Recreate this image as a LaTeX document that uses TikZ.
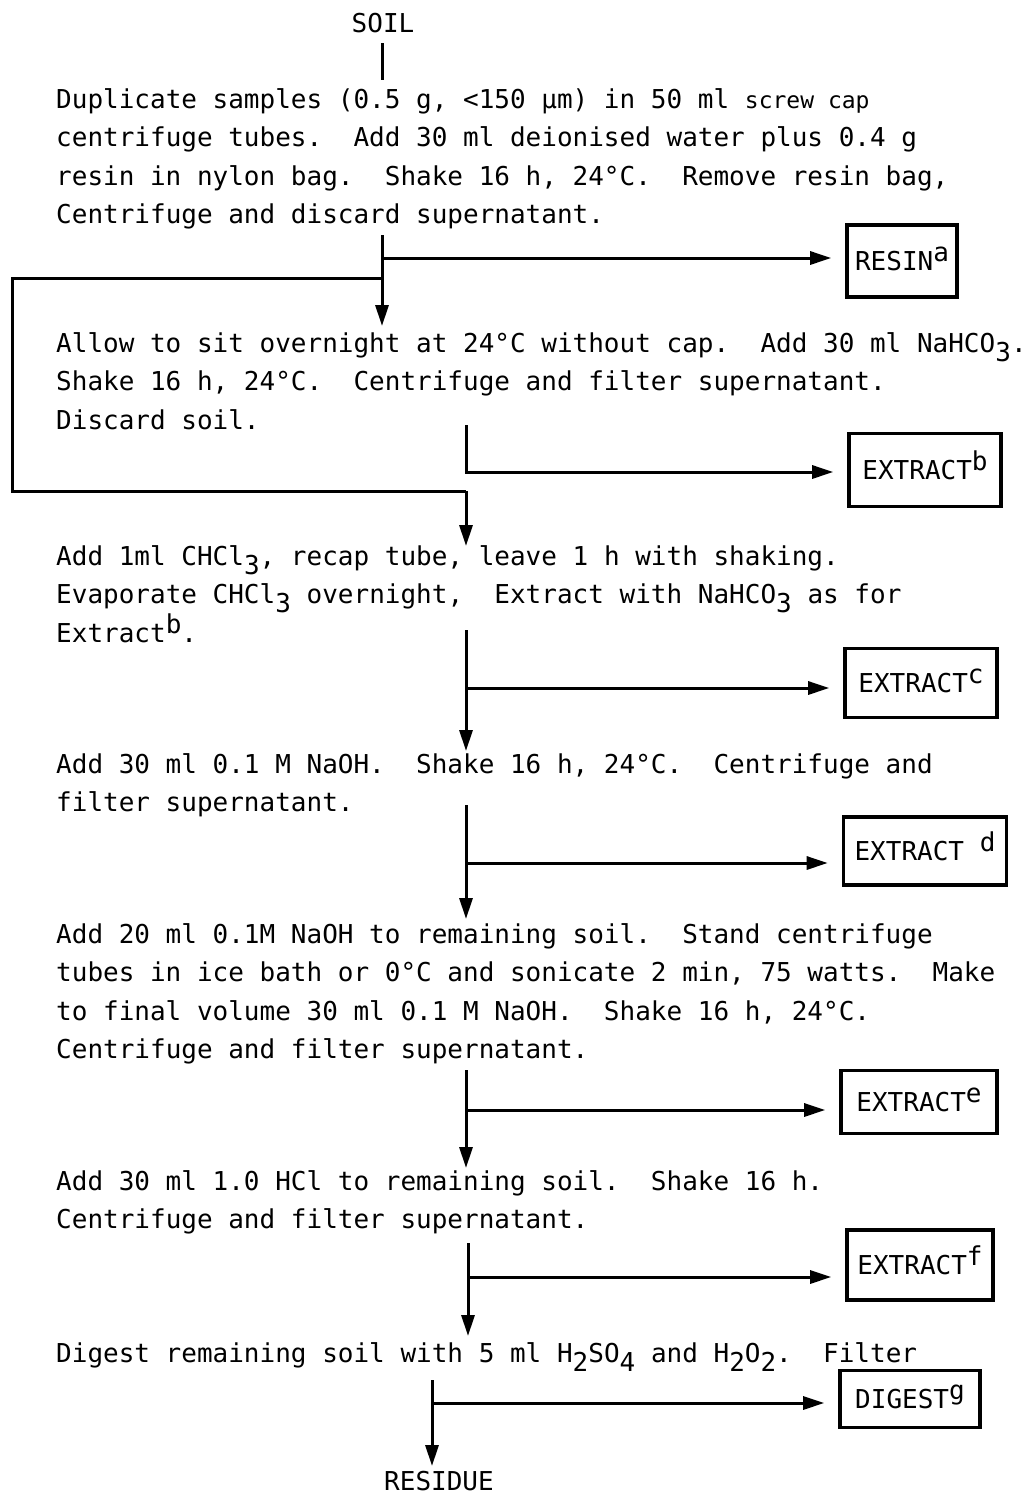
\documentclass[tikz,border=0pt]{standalone}
\usepackage{fontspec}
\newfontfamily\tw{DejaVu Sans Mono}
\usetikzlibrary{arrows.meta}
\frenchspacing
\newcommand\up[1]{\smash{\raisebox{9pt}{#1}}}
\newcommand\dn[1]{\smash{\raisebox{-9pt}{#1}}}
\newcommand\twfont{\tw\fontsize{26}{38.6}\selectfont}
\newcommand\twsmall{\tw\fontsize{23}{38.6}\selectfont}
\AtBeginDocument{%
  {\twfont \fontdimen2\font=15.65pt \fontdimen3\font=0pt \fontdimen4\font=0pt}%
  {\twsmall \fontdimen2\font=13.9pt \fontdimen3\font=0pt \fontdimen4\font=0pt}}
\begin{document}
\begin{tikzpicture}[x=1pt,y=-1pt,
  txt/.style={anchor=base west, inner sep=0pt, text width=1000pt, align=flush left,
              font=\twfont},
  lbl/.style={inner sep=0pt, font=\twfont},
  bx/.style={draw, line width=3.6pt, inner sep=0pt, text height=20pt, text depth=2pt,
             font=\twfont},
  ln/.style={line width=3pt},
  arr/.style={line width=3pt, -{Triangle[length=21pt,width=13pt]}},
  harr/.style={arr, shorten >=14pt}
]
\useasboundingbox (0,0) rectangle (1031,1494);

% texts
\node[lbl, anchor=base] (soil) at (383,32) {SOIL};
\node[txt] (p1) at (56,108) {Duplicate samples (0.5 g, <150 µm) in 50 ml {\twsmall screw cap}\\
centrifuge tubes.\ \ Add 30 ml deionised water plus 0.4 g\\
resin in nylon bag.\ \ Shake 16 h, 24°C.\ \ Remove resin bag,\\
Centrifuge and discard supernatant.};
\node[txt] (p2) at (56,352) {Allow to sit overnight at 24°C without cap.\ \ Add 30 ml NaHCO\dn{3}.\\
Shake 16 h, 24°C.\ \ Centrifuge and filter supernatant.\\
Discard soil.};
\node[txt] (p3) at (56,565) {Add 1ml CHCl\dn{3}, recap tube, leave 1 h with shaking.\\
Evaporate CHCl\dn{3} overnight,\ \ Extract with NaHCO\dn{3} as for\\
Extract\up{b}.};
\node[txt] (p4) at (56,773) {Add 30 ml 0.1 M NaOH.\ \ Shake 16 h, 24°C.\ \ Centrifuge and\\
filter supernatant.};
\node[txt] (p5) at (56,943) {Add 20 ml 0.1M NaOH to remaining soil.\ \ Stand centrifuge\\
tubes in ice bath or 0°C and sonicate 2 min, 75 watts.\ \ Make\\
to final volume 30 ml 0.1 M NaOH.\ \ Shake 16 h, 24°C.\\
Centrifuge and filter supernatant.};
\node[txt] (p6) at (56,1190) {Add 30 ml 1.0 HCl to remaining soil.\ \ Shake 16 h.\\
Centrifuge and filter supernatant.};
\node[txt] (p7) at (56,1362) {Digest remaining soil with 5 ml H\dn{2}SO\dn{4} and H\dn{2}O\dn{2}.\ \ Filter};
\node[lbl, anchor=base] (res) at (439,1490) {RESIDUE};

% boxes
\node[bx, minimum width=110pt, minimum height=72pt] (resin) at (902,261) {RESIN\up{a}};
\node[bx, minimum width=152pt, minimum height=73pt] (exb) at (925,470) {EXTRACT\up{b}};
\node[bx, minimum width=152pt, minimum height=69pt] (exc) at (921,683) {EXTRACT\up{c}};
\node[bx, minimum width=163pt, minimum height=68pt] (exd) at (925,851) {EXTRACT \up{d}};
\node[bx, minimum width=156pt, minimum height=63pt] (exe) at (919,1102) {EXTRACT\up{e}};
\node[bx, minimum width=146pt, minimum height=70pt] (exf) at (920,1265) {EXTRACT\up{f}};
\node[bx, minimum width=140pt, minimum height=57pt] (dig) at (910,1399) {DIGEST\up{g}};

% coordinates
\coordinate (s0) at (382,43);  \coordinate (e0) at (382,80);
\coordinate (s1) at (382,235); \coordinate (b1) at (382,258); \coordinate (l1) at (382,278); \coordinate (e1) at (382,326);
\coordinate (c1) at (12,278);  \coordinate (c2) at (12,491);  \coordinate (c3) at (466,491); \coordinate (e2) at (466,546);
\coordinate (s2) at (466,425); \coordinate (b2) at (466,472);
\coordinate (s3) at (466,630); \coordinate (b3) at (466,688); \coordinate (e3) at (466,751);
\coordinate (s4) at (466,805); \coordinate (b4) at (466,863); \coordinate (e4) at (466,919);
\coordinate (s5) at (466,1070); \coordinate (b5) at (466,1110); \coordinate (e5) at (466,1168);
\coordinate (s6) at (468,1243); \coordinate (b6) at (468,1277); \coordinate (e6) at (468,1336);
\coordinate (s7) at (432,1380); \coordinate (b7) at (432,1403); \coordinate (e7) at (432,1466);

% connectors
\draw[ln] (s0) -- (e0);
\draw[arr] (s1) -- (e1);
\draw[harr] (b1) -- (b1 -| resin.west);
\draw[ln] (l1) -- (c1) -- (c2) -- (c3);
\draw[arr] (c3) -- (e2);
\draw[harr] (s2) -- (b2) -- (b2 -| exb.west);
\draw[arr] (s3) -- (e3);
\draw[harr] (b3) -- (b3 -| exc.west);
\draw[arr] (s4) -- (e4);
\draw[harr] (b4) -- (b4 -| exd.west);
\draw[arr] (s5) -- (e5);
\draw[harr] (b5) -- (b5 -| exe.west);
\draw[arr] (s6) -- (e6);
\draw[harr] (b6) -- (b6 -| exf.west);
\draw[arr] (s7) -- (e7);
\draw[harr] (b7) -- (b7 -| dig.west);
\end{tikzpicture}
\end{document}
